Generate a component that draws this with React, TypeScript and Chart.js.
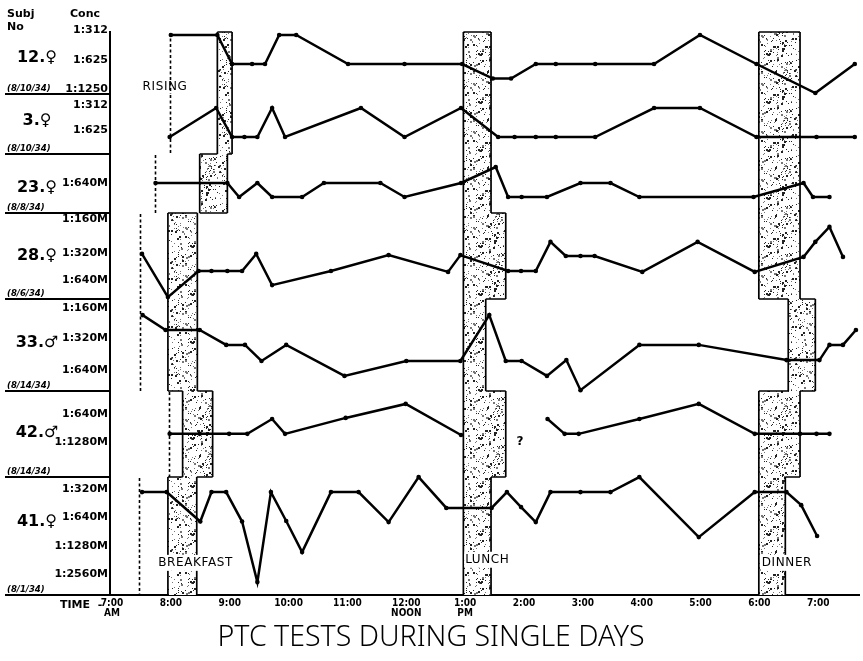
import { useEffect, useRef } from 'react';
import { Chart, registerables } from 'chart.js';

Chart.register(...registerables);

const FONT = "'DejaVu Sans', sans-serif";
const COND = "'DejaVu Sans Condensed', 'DejaVu Sans', sans-serif";

// ---------- x axis: clock time (decimal hours, 24h) ----------
const hourTicks = [7, 8, 9, 10, 11, 12, 13, 14, 15, 16, 17, 18, 19];
const hourLabels = ['7:00', '8:00', '9:00', '10:00', '11:00', '12:00', '1:00', '2:00', '3:00', '4:00', '5:00', '6:00', '7:00'];
const hourSubLabels = ['AM', '', '', '', '', 'NOON', 'PM', '', '', '', '', '', ''];

// ---------- subjects (one row each, top to bottom) ----------
const subjects = ['12.♀', '3.♀', '23.♀', '28.♀', '33.♂', '42.♂', '41.♀'];
const testDates = ['(8/10/34)', '(8/10/34)', '(8/8/34)', '(8/6/34)', '(8/14/34)', '(8/14/34)', '(8/1/34)'];
const concLabels = [
  ['1:312', '1:625', '1:1250'],
  ['1:312', '1:625'],
  ['1:640M'],
  ['1:160M', '1:320M', '1:640M'],
  ['1:160M', '1:320M', '1:640M'],
  ['1:640M', '1:1280M'],
  ['1:320M', '1:640M', '1:1280M', '1:2560M'],
];
// where each concentration label sits, in level units of its row
const concTickLevels = [
  [-0.17, 0.86, 1.86],
  [-0.1, 0.76],
  [0],
  [-0.03, 1.1, 2.0],
  [0, 0.97, 2.0],
  [0, 1.0],
  [0, 0.99, 2.01, 3.0],
];

// ---------- PTC threshold readings: time (h) and level (0 = first conc label, fractional = between) ----------
const s12Times = [8.0, 8.79, 9.04, 9.38, 9.6, 9.84, 10.13, 11.01, 11.97, 12.95, 13.47, 13.78, 14.2, 14.54, 15.21, 16.21, 16.99, 17.95, 18.95, 19.62];
const s12Levels = [0, 0, 1, 1, 1, 0, 0, 1, 1, 1, 1.5, 1.5, 1, 1, 1, 1, 0, 1, 2, 1];

const s3Times = [7.98, 8.77, 9.04, 9.25, 9.47, 9.72, 9.94, 11.23, 11.97, 12.93, 13.56, 13.84, 14.2, 14.54, 15.21, 16.21, 16.99, 17.95, 18.97, 19.62];
const s3Levels = [1, 0, 1, 1, 1, 0, 1, 0, 1, 0, 1, 1, 1, 1, 1, 0, 0, 1, 1, 1];

const s23Times = [7.74, 8.96, 9.16, 9.47, 9.72, 10.23, 10.6, 11.56, 11.97, 12.93, 13.52, 13.73, 13.96, 14.39, 14.96, 15.47, 15.96, 17.9, 18.75, 18.91, 19.19];
const s23Levels = [0, 0, 0.5, 0, 0.5, 0.5, 0, 0, 0.5, 0, -0.57, 0.5, 0.5, 0.5, 0, 0, 0.5, 0.5, 0, 0.5, 0.5];

const s28Times = [7.51, 7.95, 8.47, 8.69, 8.96, 9.21, 9.45, 9.72, 10.72, 11.7, 12.71, 12.92, 13.73, 13.95, 14.2, 14.45, 14.71, 14.96, 15.2, 16.01, 16.95, 17.92, 18.75, 18.95, 19.19, 19.42];
const s28Levels = [1.13, 2.57, 1.7, 1.7, 1.7, 1.7, 1.13, 2.17, 1.7, 1.17, 1.73, 1.17, 1.7, 1.7, 1.7, 0.73, 1.2, 1.2, 1.2, 1.73, 0.73, 1.73, 1.23, 0.73, 0.23, 1.23];

const s33Times = [7.52, 7.91, 8.49, 8.94, 9.26, 9.54, 9.96, 10.95, 12.0, 12.92, 13.41, 13.69, 13.96, 14.39, 14.72, 14.96, 15.96, 16.97, 18.46, 19.02, 19.19, 19.42, 19.64];
const s33Levels = [0.23, 0.71, 0.71, 1.19, 1.19, 1.71, 1.19, 2.19, 1.71, 1.71, 0.23, 1.71, 1.71, 2.19, 1.68, 2.65, 1.19, 1.19, 1.68, 1.68, 1.19, 1.19, 0.71];

const s42Times = [7.98, 8.49, 8.99, 9.3, 9.72, 9.94, 10.97, 11.99, 12.93, 13.7, 14.4, 14.69, 14.93, 15.96, 16.97, 17.92, 18.69, 18.97, 19.19];
const s42Levels = [0.71, 0.71, 0.71, 0.71, 0.18, 0.71, 0.14, -0.36, 0.75, null, 0.18, 0.71, 0.71, 0.18, -0.36, 0.71, 0.71, 0.71, 0.71];

const s41Times = [7.51, 7.93, 8.5, 8.69, 8.94, 9.21, 9.47, 9.7, 9.96, 10.23, 10.72, 11.19, 11.7, 12.21, 12.68, 13.45, 13.71, 13.95, 14.2, 14.45, 14.96, 15.47, 15.96, 16.97, 17.92, 18.46, 18.71, 18.98];
const s41Levels = [0.11, 0.11, 1.15, 0.11, 0.11, 1.15, 3.29, 0.11, 1.13, 2.23, 0.11, 0.11, 1.17, -0.42, 0.67, 0.67, 0.11, 0.64, 1.17, 0.11, 0.11, 0.11, -0.42, 1.7, 0.11, 0.11, 0.57, 1.66];

const seriesTimes = [s12Times, s3Times, s23Times, s28Times, s33Times, s42Times, s41Times];
const seriesLevels = [s12Levels, s3Levels, s23Levels, s28Levels, s33Levels, s42Levels, s41Levels];

// ---------- events per row (decimal hours) ----------
const risingTimes = [7.98, 7.98, 7.73, 7.47, 7.47, 7.96, 7.46];
const breakfastStart = [8.79, 8.79, 8.49, 7.95, 7.95, 8.2, 7.95];
const breakfastEnd = [9.04, 9.04, 8.96, 8.45, 8.45, 8.71, 8.44];
const lunchStart = [12.97, 12.97, 12.97, 12.97, 12.97, 12.97, 12.97];
const lunchEnd = [13.44, 13.44, 13.44, 13.69, 13.35, 13.69, 13.44];
const dinnerStart = [17.99, 17.99, 17.99, 17.99, 18.49, 17.99, 17.99];
const dinnerEnd = [18.69, 18.69, 18.69, 18.69, 18.95, 18.69, 18.44];

// ---------- layout (not data) ----------
const rowIds = ['r0', 'r1', 'r2', 'r3', 'r4', 'r5', 'r6'];
const rowRanges = [
  [-0.103, 2.034],
  [-0.483, 1.586],
  [-1.036, 1.071],
  [-0.233, 2.633],
  [-0.29, 2.677],
  [-0.821, 2.25],
  [-0.424, 3.746],
];
const rowWeights = [62, 60, 59, 86, 92, 86, 118];
const subjectLabelFrac = [0.42, 0.45, 0.58, 0.5, 0.48, 0.49, 0.38];

const notes = [
  { text: 'RISING', time: 7.52, row: 0, level: 1.79, align: 'left', bg: false },
  { text: 'BREAKFAST', time: 8.42, row: 6, level: 2.61, align: 'center', bg: true },
  { text: 'LUNCH', time: 13.0, row: 6, level: 2.5, align: 'left', bg: true },
  { text: 'DINNER', time: 18.04, row: 6, level: 2.61, align: 'left', bg: true },
  { text: '?', time: 13.93, row: 5, level: 1.0, align: 'center', bg: false },
];

function makeStipple(ctx: CanvasRenderingContext2D) {
  const c = document.createElement('canvas');
  c.width = 48;
  c.height = 48;
  const g = c.getContext('2d')!;
  g.fillStyle = '#fff';
  g.fillRect(0, 0, 48, 48);
  let s = 987654321;
  const rnd = () => {
    s = (Math.imul(s, 1664525) + 1013904223) >>> 0;
    return s / 4294967296;
  };
  for (let i = 0; i < 210; i++) {
    const px = Math.floor(rnd() * 48);
    const py = Math.floor(rnd() * 48);
    const big = rnd() < 0.3;
    g.fillStyle = rnd() < 0.5 ? '#222' : '#777';
    g.fillRect(px, py, big ? 2 : 1, big ? 2 : 1);
  }
  return ctx.createPattern(c, 'repeat')!;
}

function drawMeal(ctx: CanvasRenderingContext2D, xs: any, rows: any[], starts: number[], ends: number[], pattern: CanvasPattern) {
  const L = rows.map((_, i) => xs.getPixelForValue(starts[i]));
  const R = rows.map((_, i) => xs.getPixelForValue(ends[i]));
  ctx.save();
  ctx.fillStyle = pattern;
  rows.forEach((r, i) => ctx.fillRect(L[i], r.top, R[i] - L[i], r.bottom - r.top));
  ctx.strokeStyle = '#000';
  ctx.lineWidth = 1.7;
  ctx.beginPath();
  rows.forEach((r, i) => {
    ctx.moveTo(L[i], r.top);
    ctx.lineTo(L[i], r.bottom);
    ctx.moveTo(R[i], r.top);
    ctx.lineTo(R[i], r.bottom);
  });
  ctx.moveTo(L[0], rows[0].top);
  ctx.lineTo(R[0], rows[0].top);
  for (let i = 0; i < rows.length - 1; i++) {
    const y = rows[i].bottom;
    const a1 = L[i], b1 = R[i], a2 = L[i + 1], b2 = R[i + 1];
    if (b1 < a2 || b2 < a1) {
      ctx.moveTo(a1, y); ctx.lineTo(b1, y);
      ctx.moveTo(a2, y); ctx.lineTo(b2, y);
    } else {
      if (Math.abs(a1 - a2) > 0.5) { ctx.moveTo(Math.min(a1, a2), y); ctx.lineTo(Math.max(a1, a2), y); }
      if (Math.abs(b1 - b2) > 0.5) { ctx.moveTo(Math.min(b1, b2), y); ctx.lineTo(Math.max(b1, b2), y); }
    }
  }
  ctx.stroke();
  ctx.restore();
}

export default function App() {
  const ref = useRef<HTMLCanvasElement>(null);

  useEffect(() => {
    const canvas = ref.current!;
    const ctx0 = canvas.getContext('2d')!;
    const stipple = makeStipple(ctx0);

    const overlay = {
      id: 'ptcOverlay',
      beforeDatasetsDraw(chart: any) {
        const ctx: CanvasRenderingContext2D = chart.ctx;
        const xs = chart.scales.x;
        const rows = rowIds.map((id) => chart.scales[id]);
        drawMeal(ctx, xs, rows, breakfastStart, breakfastEnd, stipple);
        drawMeal(ctx, xs, rows, lunchStart, lunchEnd, stipple);
        drawMeal(ctx, xs, rows, dinnerStart, dinnerEnd, stipple);

        ctx.save();
        ctx.strokeStyle = '#000';
        ctx.lineWidth = 1.6;
        ctx.setLineDash([3, 2.5]);
        rows.forEach((r, i) => {
          const px = Math.round(xs.getPixelForValue(risingTimes[i])) + 0.5;
          ctx.beginPath();
          ctx.moveTo(px, r.top + 1);
          ctx.lineTo(px, r.bottom);
          ctx.stroke();
        });
        ctx.restore();

        ctx.save();
        ctx.textBaseline = 'middle';
        notes.forEach((n) => {
          const r = rows[n.row];
          const px = xs.getPixelForValue(n.time);
          const py = r.getPixelForValue(n.level);
          ctx.font = n.text === '?' ? `bold 12px ${FONT}` : `12px ${FONT}`;
          (ctx as any).letterSpacing = n.text === '?' ? '0px' : '0.6px';
          ctx.textAlign = n.align as CanvasTextAlign;
          const w = ctx.measureText(n.text).width;
          if (n.bg) {
            const x0 = n.align === 'center' ? px - w / 2 : px;
            ctx.fillStyle = '#fff';
            ctx.fillRect(x0 - 1, py - 8, w + 2, 16);
          }
          ctx.fillStyle = '#000';
          ctx.fillText(n.text, px, py);
        });
        ctx.restore();
      },
      afterDraw(chart: any) {
        const ctx: CanvasRenderingContext2D = chart.ctx;
        const area = chart.chartArea;
        const rows = rowIds.map((id) => chart.scales[id]);
        ctx.save();
        ctx.fillStyle = '#000';
        ctx.strokeStyle = '#000';
        // header
        ctx.font = `bold 11px ${FONT}`;
        ctx.textAlign = 'left';
        ctx.textBaseline = 'middle';
        ctx.fillText('Subj', 7, 14);
        ctx.fillText('No', 7, 27);
        ctx.fillText('Conc', 70, 14);
        // separators, subject numbers, dates
        ctx.lineWidth = 2;
        rows.forEach((r, i) => {
          ctx.beginPath();
          ctx.moveTo(5, r.bottom);
          ctx.lineTo(area.left, r.bottom);
          ctx.stroke();
          ctx.font = `bold 16px ${FONT}`;
          ctx.textAlign = 'center';
          ctx.textBaseline = 'middle';
          ctx.fillText(subjects[i], 37, r.top + (r.bottom - r.top) * subjectLabelFrac[i]);
          ctx.font = `italic bold 8.5px ${FONT}`;
          ctx.textAlign = 'left';
          ctx.textBaseline = 'bottom';
          ctx.fillText(testDates[i], 7, r.bottom - 1);
        });
        // TIME caption
        ctx.font = `bold 11px ${FONT}`;
        ctx.textAlign = 'left';
        ctx.textBaseline = 'middle';
        ctx.fillText('TIME  -', 60, area.bottom + 10);
        // title
        const t = 'PTC TESTS DURING SINGLE DAYS';
        ctx.font = `300 29px 'Noto Sans', sans-serif`;
        ctx.textAlign = 'left';
        ctx.textBaseline = 'middle';
        const natural = ctx.measureText(t).width;
        const targetW = 427;
        let spacing = (targetW - natural) / (t.length - 1);
        if (spacing < 0) spacing = 0;
        (ctx as any).letterSpacing = `${spacing}px`;
        const w2 = ctx.measureText(t).width;
        const sx = Math.min(1, targetW / w2);
        ctx.translate(431 - (w2 * sx) / 2, 638);
        ctx.scale(sx, 1);
        ctx.fillText(t, 0, 0);
        ctx.restore();
      },
    };

    const scales: any = {
      x: {
        type: 'linear',
        min: 6.966,
        max: 19.692,
        grid: { display: false, drawTicks: false },
        border: { display: true, color: '#000', width: 2 },
        afterBuildTicks: (axis: any) => {
          axis.ticks = hourTicks.map((v) => ({ value: v }));
        },
        afterFit: (axis: any) => {
          axis.height = 28;
        },
        ticks: {
          autoSkip: false,
          maxRotation: 0,
          padding: 3,
          color: '#000',
          font: { family: COND, size: 10, weight: 'bold', lineHeight: 1.05 },
          callback: (v: any) => {
            const i = hourTicks.indexOf(v);
            if (i < 0) return '';
            return hourSubLabels[i] ? [hourLabels[i], hourSubLabels[i]] : hourLabels[i];
          },
        },
      },
    };
    for (let i = rowIds.length - 1; i >= 0; i--) {
      const labels = concLabels[i];
      const lv = concTickLevels[i];
      scales[rowIds[i]] = {
        type: 'linear',
        position: 'left',
        stack: 'rows',
        stackWeight: rowWeights[i],
        weight: rowIds.length - i,
        reverse: true,
        min: rowRanges[i][0],
        max: rowRanges[i][1],
        grid: { display: false, drawTicks: false },
        border: { display: true, color: '#000', width: 2 },
        afterBuildTicks: (axis: any) => {
          axis.ticks = lv.map((v) => ({ value: v }));
        },
        afterFit: (axis: any) => {
          axis.width = 110;
        },
        ticks: {
          autoSkip: false,
          padding: 2,
          color: '#000',
          font: { family: FONT, size: 11, weight: 'bold' },
          callback: (v: any) => {
            const k = lv.indexOf(v);
            return k >= 0 ? labels[k] : '';
          },
        },
      };
    }

    const datasets = rowIds.map((id, i) => ({
      label: subjects[i],
      data: seriesTimes[i].map((t, k) => ({ x: t, y: seriesLevels[i][k] })),
      yAxisID: id,
      xAxisID: 'x',
      borderColor: '#000',
      backgroundColor: '#000',
      borderWidth: 2.5,
      pointRadius: 2.3,
      pointBorderWidth: 0,
      pointBackgroundColor: '#000',
      tension: 0,
      spanGaps: false,
      clip: false as any,
    }));

    const chart = new Chart(canvas, {
      type: 'line',
      data: { datasets },
      options: {
        responsive: false,
        animation: false,
        devicePixelRatio: 1,
        layout: { padding: { top: 32, left: 0, right: 0, bottom: 38 } },
        plugins: {
          legend: { display: false },
          tooltip: { enabled: false },
          title: { display: false },
        },
        scales,
      },
      plugins: [overlay],
    } as any);

    return () => chart.destroy();
  }, []);

  return (
    <div style={{ position: 'absolute', left: 0, top: 0, width: 863, height: 661, background: '#fff' }}>
      <canvas ref={ref} width={863} height={661} style={{ display: 'block' }} />
    </div>
  );
}
